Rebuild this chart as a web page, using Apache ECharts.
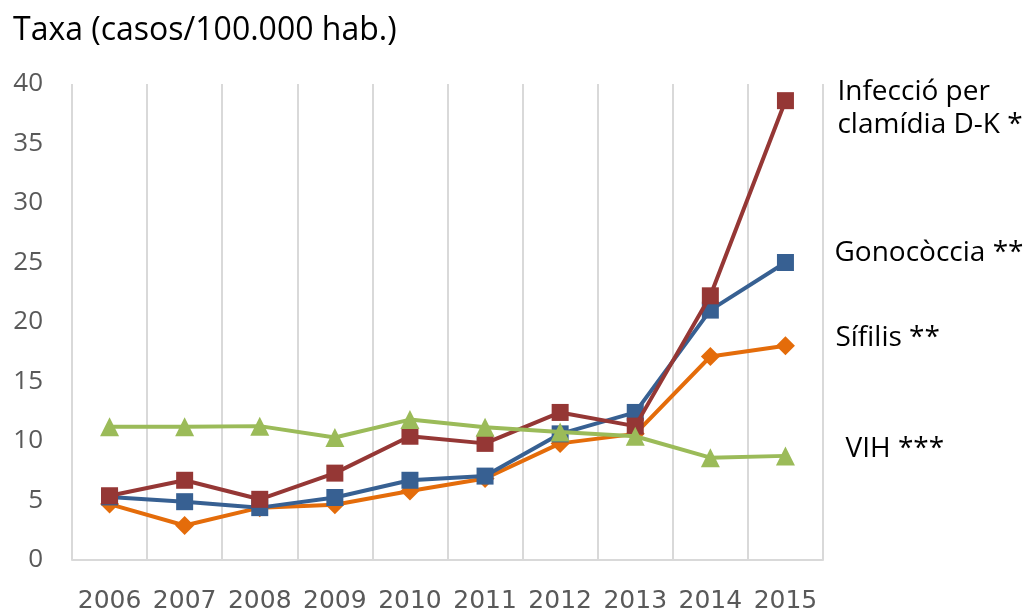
<!DOCTYPE html>
<html>
<head>
<meta charset="utf-8">
<script src="https://cdn.jsdelivr.net/npm/echarts@6/dist/echarts.min.js"></script>
<style>
html,body{margin:0;padding:0;background:#fff;}
#chart{width:1025px;height:614px;}
</style>
</head>
<body>
<div id="chart"></div>
<script>
const years = ['2006','2007','2008','2009','2010','2011','2012','2013','2014','2015'];
const yTicks = [0,5,10,15,20,25,30,35,40];
const titleText = 'Taxa (casos/100.000 hab.)';

const names = ['Sífilis **','Gonocòccia **','Infecció per\nclamídia D-K *','VIH ***'];
const sifilis    = [4.7, 2.9, 4.4, 4.65, 5.8, 6.85, 9.8, 10.6, 17.1, 18.0];
const gonococcia = [5.3, 4.9, 4.4, 5.25, 6.7, 7.05, 10.6, 12.4, 21.0, 25.0];
const clamidia   = [5.4, 6.7, 5.1, 7.3, 10.4, 9.8, 12.4, 11.25, 22.2, 38.6];
const vih        = [11.2, 11.2, 11.25, 10.3, 11.8, 11.15, 10.75, 10.4, 8.6, 8.75];

const colors = ['#E46C0A','#376092','#953735','#9BBB59'];
const symbols = ['diamond','rect','rect','triangle'];
const symbolSizes = [19, 17, 17, 19];
const dataSets = [sifilis, gonococcia, clamidia, vih];
const labelOffsets = [[42,-8],[41,-9],[44,8],[52,-7]];

const chart = echarts.init(document.getElementById('chart'));
const series = dataSets.map((d,i)=>({
  name: names[i],
  type: 'line',
  data: d,
  z: 2+i,
  symbol: symbols[i],
  symbolSize: symbolSizes[i],
  lineStyle: {color: colors[i], width: 4},
  itemStyle: {color: colors[i]},
  animation: false,
  endLabel: {
    show: true,
    formatter: names[i],
    color: '#000',
    fontSize: 28,
    lineHeight: 33,
    fontFamily: 'Open Sans',
    offset: labelOffsets[i]
  }
}));

chart.setOption({
  animation: false,
  title: {
    text: titleText,
    left: 8,
    top: 10,
    textStyle: {fontSize: 32, fontWeight: 'normal', color: '#000', fontFamily: 'Open Sans'}
  },
  grid: {left: 72, right: 202, top: 84, bottom: 50, containLabel: false},
  xAxis: {
    type: 'category',
    data: years,
    boundaryGap: true,
    axisLine: {show: true, lineStyle: {color: '#D9D9D9', width: 2}},
    axisTick: {show: false},
    splitLine: {show: true, lineStyle: {color: '#D9D9D9', width: 2}},
    axisLabel: {fontSize: 25, color: '#595959', fontFamily: 'DejaVu Sans', margin: 29, interval: 0}
  },
  yAxis: {
    type: 'value',
    min: yTicks[0],
    max: yTicks[yTicks.length-1],
    interval: yTicks[1]-yTicks[0],
    axisLine: {show: false},
    axisTick: {show: false},
    splitLine: {show: false},
    axisLabel: {fontSize: 26, color: '#595959', fontFamily: 'Open Sans', margin: 29}
  },
  series: series
});
</script>
</body>
</html>
